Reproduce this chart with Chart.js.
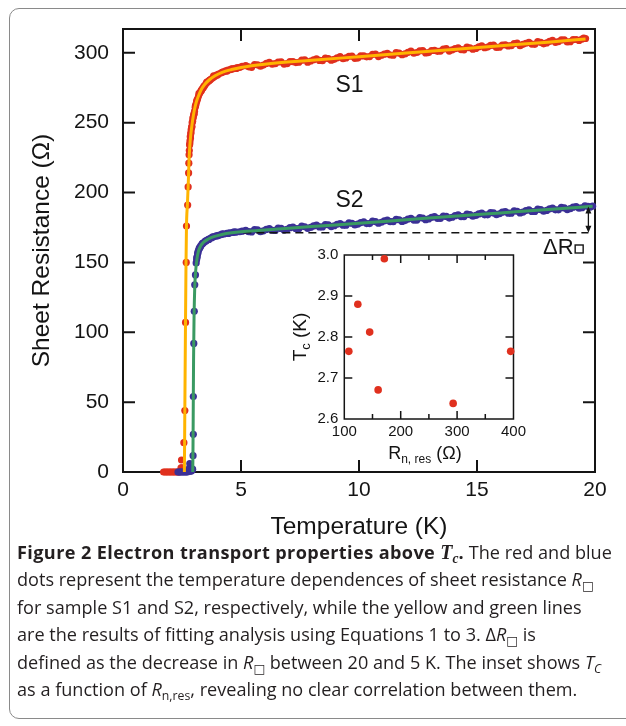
<!DOCTYPE html>
<html>
<head>
<meta charset="utf-8">
<script src="https://cdn.jsdelivr.net/npm/chart.js@4.4.1/dist/chart.umd.min.js"></script>
<style>
  html, body { margin:0; padding:0; background:#fff; }
  body { width:626px; height:726px; position:relative; overflow:hidden; }
  #frame { position:absolute; left:9px; top:8px; width:640px; height:711px; border:1.5px solid #8a8a8a; border-radius:10px; box-sizing:border-box; }
  #main { position:absolute; left:0; top:0; }
  #inset { position:absolute; left:280px; top:240px; }
  #cap { position:absolute; left:17px; top:539px; font-family:"Open Sans", sans-serif; font-size:18.1px; line-height:27.4px; color:#231f20; white-space:nowrap; }
  #cap b { font-weight:700; letter-spacing:0.4px; }
  #cap .tc { font-family:"Liberation Serif", serif; font-style:italic; font-weight:700; font-size:1.1em; letter-spacing:0; }
  #cap sub { font-size:0.68em; line-height:0; vertical-align:baseline; position:relative; top:0.32em; }
  #cap .sq { font-family:"DejaVu Sans", sans-serif; font-style:normal; }
</style>
</head>
<body>
<div id="frame"></div>
<canvas id="main" width="626" height="545"></canvas>
<canvas id="inset" width="250" height="230"></canvas>
<div id="cap"><b>Figure 2 Electron transport properties above <span class="tc">T<sub>c</sub></span>.</b> The red and blue<br>dots represent the temperature dependences of sheet resistance <i>R</i><sub class="sq">□</sub><br>for sample S1 and S2, respectively, while the yellow and green lines<br>are the results of fitting analysis using Equations 1 to 3. Δ<i>R</i><sub class="sq">□</sub> is<br>defined as the decrease in <i>R</i><sub class="sq">□</sub> between 20 and 5 K. The inset shows <i>T<sub>C</sub></i><br>as a function of <i>R</i><sub>n,res</sub>, revealing no clear correlation between them.</div>
<script>
// ---------------- data ----------------
// Sample S1: measured sheet resistance (red dots)
const S1_T = [1.72,1.78,1.84,1.90,1.96,2.02,2.08,2.14,2.20,2.26,2.32,2.38,2.42,2.46,2.48,2.50,2.54,2.57,
  2.58,2.62,2.65,2.68,2.69,2.74,2.76,2.78,2.79,2.80,
  2.81,2.82,2.84,2.85,2.87,2.89,2.91,2.93,2.95,2.98,3.00,3.03,3.06,3.09,3.12,3.16,3.20,3.25,3.30,3.35,3.40,3.46,3.52,3.58,3.65,3.72,3.80,3.88,3.96,4.05,4.15,4.25,4.35,4.45,4.55,4.65,4.75,4.85,4.95,
  5.20,5.45,5.70,5.95,6.20,6.45,6.70,6.95,7.20,7.45,7.70,7.95,8.20,8.45,8.70,8.95,9.20,9.45,9.70,9.95,
  10.20,10.45,10.70,10.95,11.20,11.45,11.70,11.95,12.20,12.45,12.70,12.95,13.20,13.45,13.70,13.95,
  14.20,14.45,14.70,14.95,15.20,15.45,15.70,15.95,16.20,16.45,16.70,16.95,17.20,17.45,17.70,17.95,
  18.20,18.45,18.70,18.95,19.20,19.45,19.60];
const S1_R = [0,0,0,0,0,0,0,0,0,0,0,0,0.5,3,8.6,3,0.5,1,
  21,44,107,150,176,191,204,214,221,227,
  230,234,237,240,242,245,247,250,251,254,256,258,261,263,265,267,269,271,272.5,274,275,276.5,278,279,280,281,282,283,284,284.8,285.5,286.3,287,287.6,288,288.5,288.8,289.3,289.6,
  290.8,289.6,291.4,291.2,293.1,292.2,293.5,292.2,293.7,293.2,295.0,294.1,295.7,294.3,295.8,295.3,297.2,296.3,297.6,296.2,
  297.8,297.3,299.1,298.2,299.6,298.2,299.7,299.2,301.1,300.2,301.5,300.1,301.7,301.2,303.0,302.1,
  303.5,302.1,303.6,303.1,305.0,304.1,305.4,304.0,305.6,305.1,306.9,306.0,307.4,306.0,307.5,307.0,
  308.9,308.0,309.3,307.9,309.5,309.8,310.2];
// S1 dots in between (the dense band above 5 K and in the knee)
const S1B_T = [2.83,2.86,2.88,2.92,2.96,3.01,3.07,3.13,3.22,3.32,3.43,3.55,3.68,3.84,4.00,4.20,4.40,4.60,4.80,5.05,
  5.325,5.575,5.825,6.075,6.325,6.575,6.825,7.075,7.325,7.575,7.825,8.075,8.325,8.575,8.825,9.075,9.325,9.575,9.825,
  10.075,10.325,10.575,10.825,11.075,11.325,11.575,11.825,12.075,12.325,12.575,12.825,13.075,13.325,13.575,13.825,
  14.075,14.325,14.575,14.825,15.075,15.325,15.575,15.825,16.075,16.325,16.575,16.825,17.075,17.325,17.575,17.825,
  18.075,18.325,18.575,18.825,19.075,19.325,19.525];
const S1B_R = [235,239,243,247,253,256,262,266,271,273,276,279,280.5,283.5,284,286,286.8,288.4,288.8,290.3,
  289.9,291.6,290.4,292.4,291.8,293.4,291.9,293.7,293.0,294.7,293.2,295.0,294.5,296.2,294.7,296.4,295.8,297.5,296.0,
  297.7,297.1,298.8,297.3,299.0,298.4,300.1,298.6,300.3,299.7,301.4,299.9,301.6,301.0,302.7,301.2,
  302.9,302.3,304.0,302.5,304.2,303.6,305.3,303.8,305.5,304.9,306.6,305.1,306.8,306.2,307.9,306.4,
  308.1,307.5,309.2,307.7,309.4,308.8,310.5];
// Sample S1: fit (yellow line)
const FIT1_T = [2.60,2.61,2.62,2.645,2.67,2.69,2.73,2.76,2.78,2.80,2.83,2.87,2.92,2.98,3.05,3.13,3.22,3.33,3.47,3.65,3.90,4.20,4.60,5.00,6.00,8.00,10.00,12.00,14.00,16.00,18.00,19.60];
const FIT1_R = [0,20,44,100,150,176,192,204,214,224,233,241,248,255,261,266,270,274,277.5,280.5,283.5,286,288,289.5,291.8,294.6,297.2,299.8,302.4,305.0,307.6,309.8];
// Sample S2: measured sheet resistance (blue dots)
const S2_T = [2.33,2.38,2.43,2.48,2.53,2.58,2.63,2.68,2.73,2.78,2.82,2.83,2.85,2.88,2.92,2.95,
  2.97,2.98,2.98,3.00,3.02,3.04,3.07,3.10,
  3.12,3.14,3.16,3.18,3.21,3.25,3.30,3.35,3.40,3.46,3.53,3.60,3.68,3.76,3.85,3.95,4.05,4.15,4.27,4.40,4.52,4.65,4.80,4.95,
  5.20,5.45,5.70,5.95,6.20,6.45,6.70,6.95,7.20,7.45,7.70,7.95,8.20,8.45,8.70,8.95,9.20,9.45,9.70,9.95,
  10.20,10.45,10.70,10.95,11.20,11.45,11.70,11.95,12.20,12.45,12.70,12.95,13.20,13.45,13.70,13.95,
  14.20,14.45,14.70,14.95,15.20,15.45,15.70,15.95,16.20,16.45,16.70,16.95,17.20,17.45,17.70,17.95,
  18.20,18.45,18.70,18.95,19.20,19.45,19.70,19.90];
const S2_R = [0,0,0,0,0,0,0,0,0,0.5,3,6,2,0.5,1,2,
  11.7,27,54,92,115,134,141,149.6,
  152,154,156,157.7,159,160.5,162,163,163.8,164.7,165.5,166.3,167,167.7,168.3,168.9,169.4,169.8,170.3,170.7,171.1,171.4,171.7,171.9,
  172.9,171.8,173.2,172.6,174.1,172.9,174.3,173.7,175.3,174.1,175.5,175.0,176.6,175.4,176.8,176.2,177.8,176.6,178.0,177.4,
  179.0,177.8,179.2,178.7,180.3,179.1,180.5,179.9,181.5,180.3,181.7,181.1,182.7,181.5,182.9,182.3,
  184.0,182.8,184.2,183.6,185.2,184.0,185.4,184.8,186.4,185.2,186.6,186.0,187.6,186.4,187.8,187.2,
  188.8,187.6,189.0,188.4,190.0,189.1,190.1,190.2];
// S2 dots in between
const S2B_T = [3.13,3.17,3.23,3.28,3.37,3.49,3.64,3.80,4.00,4.21,4.46,4.72,5.05,
  5.325,5.575,5.825,6.075,6.325,6.575,6.825,7.075,7.325,7.575,7.825,8.075,8.325,8.575,8.825,9.075,9.325,9.575,9.825,
  10.075,10.325,10.575,10.825,11.075,11.325,11.575,11.825,12.075,12.325,12.575,12.825,13.075,13.325,13.575,13.825,
  14.075,14.325,14.575,14.825,15.075,15.325,15.575,15.825,16.075,16.325,16.575,16.825,17.075,17.325,17.575,17.825,
  18.075,18.325,18.575,18.825,19.075,19.325,19.575,19.80];
const S2B_R = [153.5,156.5,160,161.2,163.6,165.3,166.4,168.3,168.9,170.4,170.7,171.8,172.3,
  172.0,173.5,172.0,173.6,173.0,174.6,173.1,174.8,174.1,175.9,174.4,176.1,175.4,177.1,175.6,177.3,176.6,178.3,176.8,
  178.5,177.8,179.5,178.0,179.8,179.1,180.8,179.3,181.0,180.3,182.0,180.5,182.2,181.5,183.2,181.7,
  183.4,182.8,184.5,183.0,184.7,184.0,185.7,184.2,185.9,185.2,186.9,185.4,187.1,186.4,188.1,186.6,
  188.3,187.6,189.3,187.8,189.5,188.8,190.5,189.6];
// Sample S2: fit (green line)
const FIT2_T = [2.955,2.965,2.975,2.99,3.01,3.04,3.08,3.13,3.19,3.28,3.40,3.60,3.85,4.20,4.60,5.00,6.00,8.00,10.00,12.00,14.00,16.00,18.00,19.90];
const FIT2_R = [0,15,40,80,110,132,144,152,157.5,161.5,164.2,166.6,168.4,170.0,171.2,172.0,173.1,175.6,178.0,180.5,183.0,185.4,187.8,190.1];
// Delta R reference (dashed level, R at 5 K) and the 20 K value
const DASH_T = [5.1, 19.72];
const DASH_R = [171.2, 171.2];
const ARROW_T = 19.72, ARROW_TOP = 190.0, ARROW_BOTTOM = 171.2;
// Axis ticks
const MAIN_X_TICKS = [0, 5, 10, 15, 20];
const MAIN_Y_TICKS = [0, 50, 100, 150, 200, 250, 300];
// Inset: Tc vs R_n,res
const INSET_R = [108, 124, 145, 160, 171, 293, 395];
const INSET_TC = [2.765, 2.880, 2.812, 2.671, 2.991, 2.638, 2.765];
const INSET_X_TICKS = [100, 200, 300, 400];
const INSET_Y_TICKS = [2.6, 2.7, 2.8, 2.9, 3.0];

const pts = (xs, ys) => xs.map((x, i) => ({x, y: ys[i]}));
const FONT = "'Liberation Sans', Arial, sans-serif";
const INK = '#141414';
const RED = '#e0301e', BLUE = '#3b3096', YELLOW = '#ffb400', GREEN = '#3a9a62';

// inward ticks on all four sides + frame
const frameTicks = {
  id: 'frameTicks',
  beforeDatasetsDraw(chart, args, o) {
    const {ctx, chartArea: a, scales: {x, y}} = chart;
    ctx.save();
    ctx.strokeStyle = INK;
    ctx.lineWidth = o.lw;
    ctx.beginPath();
    const xt = (v, L) => { const p = x.getPixelForValue(v); if (p < a.left + 1 || p > a.right - 1) return;
      ctx.moveTo(p, a.bottom); ctx.lineTo(p, a.bottom - L); ctx.moveTo(p, a.top); ctx.lineTo(p, a.top + L); };
    const yt = (v, L) => { const p = y.getPixelForValue(v); if (p < a.top + 1 || p > a.bottom - 1) return;
      ctx.moveTo(a.left, p); ctx.lineTo(a.left + L, p); ctx.moveTo(a.right, p); ctx.lineTo(a.right - L, p); };
    o.xTicks.forEach(v => xt(v, o.len));
    o.yTicks.forEach(v => yt(v, o.len));
    if (o.xMinor) for (let i = 0; i < o.xTicks.length - 1; i++) xt((o.xTicks[i] + o.xTicks[i+1]) / 2, o.minorLen);
    ctx.stroke();
    ctx.lineWidth = o.frameLw;
    ctx.strokeRect(a.left, a.top, a.right - a.left, a.bottom - a.top);
    ctx.restore();
  }
};

// text/arrow annotations of the main plot
const mainNotes = {
  id: 'mainNotes',
  afterDatasetsDraw(chart) {
    const {ctx, scales: {x, y}} = chart;
    ctx.save();
    ctx.fillStyle = INK;
    ctx.textBaseline = 'alphabetic';
    ctx.textAlign = 'left';
    ctx.font = `23px ${FONT}`;
    ctx.fillText('S1', x.getPixelForValue(9.0), y.getPixelForValue(271.9));
    ctx.fillText('S2', x.getPixelForValue(9.0), y.getPixelForValue(189.6));
    // arrow
    const ax = x.getPixelForValue(ARROW_T), y1 = y.getPixelForValue(ARROW_TOP), y2 = y.getPixelForValue(ARROW_BOTTOM);
    ctx.strokeStyle = INK; ctx.lineWidth = 1.3;
    ctx.beginPath(); ctx.moveTo(ax, y1 + 3); ctx.lineTo(ax, y2 - 3); ctx.stroke();
    ctx.beginPath();
    ctx.moveTo(ax, y1); ctx.lineTo(ax - 3, y1 + 7); ctx.lineTo(ax + 3, y1 + 7); ctx.closePath();
    ctx.moveTo(ax, y2); ctx.lineTo(ax - 3, y2 - 7); ctx.lineTo(ax + 3, y2 - 7); ctx.closePath();
    ctx.fill();
    // Delta R label
    ctx.font = `22px ${FONT}`;
    const lx = x.getPixelForValue(17.8), ly = y.getPixelForValue(156.0);
    ctx.fillText('ΔR', lx, ly);
    const w = ctx.measureText('ΔR').width;
    ctx.lineWidth = 1.4;
    ctx.strokeRect(lx + w + 1.5, ly - 9, 8, 8);
    ctx.restore();
  }
};

const dots = (xs, ys, c) => ({ data: pts(xs, ys), pointRadius: 3.6, pointBackgroundColor: c, pointBorderWidth: 0, clip: false });

new Chart(document.getElementById('main'), {
  type: 'scatter',
  data: {
    datasets: [
      { data: pts(FIT1_T, FIT1_R), showLine: true, borderColor: YELLOW, borderWidth: 3, pointRadius: 0, cubicInterpolationMode: 'monotone', clip: false },
      { data: pts(FIT2_T, FIT2_R), showLine: true, borderColor: GREEN, borderWidth: 3, pointRadius: 0, cubicInterpolationMode: 'monotone', clip: false },
      { data: pts(DASH_T, DASH_R), showLine: true, borderColor: INK, borderWidth: 1.5, borderDash: [8, 5], pointRadius: 0 },
      dots(S2_T, S2_R, BLUE),
      dots(S2B_T, S2B_R, BLUE),
      dots(S1_T, S1_R, RED),
      dots(S1B_T, S1B_R, RED)
    ]
  },
  options: {
    responsive: false, animation: false, events: [],
    layout: { padding: { left: 0, top: 29, right: 31, bottom: 0 } },
    plugins: { legend: { display: false }, tooltip: { enabled: false },
      frameTicks: { lw: 2, frameLw: 2, len: 12, xTicks: MAIN_X_TICKS, yTicks: MAIN_Y_TICKS } },
    scales: {
      x: { type: 'linear', min: 0, max: 20,
        afterBuildTicks: s => { s.ticks = MAIN_X_TICKS.map(v => ({value: v})); },
        afterFit: s => { s.height = 73; },
        grid: { display: false, drawTicks: false }, border: { display: false },
        ticks: { font: { family: FONT, size: 21 }, color: INK, padding: 6 },
        title: { display: true, text: 'Temperature (K)', font: { family: FONT, size: 24.5 }, color: INK, padding: { top: 0, bottom: 3 } } },
      y: { type: 'linear', min: 0, max: 317,
        afterBuildTicks: s => { s.ticks = MAIN_Y_TICKS.map(v => ({value: v})); },
        afterFit: s => { s.width = 123; },
        grid: { display: false, drawTicks: false }, border: { display: false },
        ticks: { font: { family: FONT, size: 21 }, color: INK, padding: 14 },
        title: { display: true, text: 'Sheet Resistance (Ω)', font: { family: FONT, size: 24.5 }, color: INK, padding: { top: 28, bottom: 0 } } }
    }
  },
  plugins: [frameTicks, mainNotes]
});

// inset titles with subscripts
const insetTitles = {
  id: 'insetTitles',
  afterDraw(chart) {
    const {ctx, chartArea: a} = chart;
    const parts = (list) => { let w = 0; list.forEach(p => { ctx.font = p[1]; w += ctx.measureText(p[0]).width; }); return w; };
    const drawParts = (list, x0, y0) => { let xx = x0; list.forEach(p => { ctx.font = p[1]; ctx.fillText(p[0], xx, y0 + p[2]); xx += ctx.measureText(p[0]).width; }); };
    ctx.save();
    ctx.fillStyle = INK; ctx.textBaseline = 'alphabetic'; ctx.textAlign = 'left';
    const xl = [['R', `18px ${FONT}`, 0], ['n, res', `12px ${FONT}`, 4], [' (Ω)', `18px ${FONT}`, 0]];
    const wx = parts(xl);
    drawParts(xl, (a.left + a.right) / 2 - wx / 2 - 4, 219);
    const yl = [['T', `19px ${FONT}`, 0], ['c', `13px ${FONT}`, 4], [' (K)', `19px ${FONT}`, 0]];
    const wy = parts(yl);
    ctx.translate(26, (a.top + a.bottom) / 2);
    ctx.rotate(-Math.PI / 2);
    drawParts(yl, -wy / 2, 0);
    ctx.restore();
  }
};

new Chart(document.getElementById('inset'), {
  type: 'scatter',
  data: { datasets: [ { data: pts(INSET_R, INSET_TC), pointRadius: 3.8, pointBackgroundColor: RED, pointBorderWidth: 0, clip: false } ] },
  options: {
    responsive: false, animation: false, events: [],
    layout: { padding: { left: 0, top: 13.3, right: 14.7, bottom: 0 } },
    plugins: { legend: { display: false }, tooltip: { enabled: false },
      frameTicks: { lw: 1.5, frameLw: 1.5, len: 8, minorLen: 5, xMinor: true, xTicks: INSET_X_TICKS, yTicks: INSET_Y_TICKS } },
    scales: {
      x: { type: 'linear', min: 100, max: 400,
        afterBuildTicks: s => { s.ticks = INSET_X_TICKS.map(v => ({value: v})); },
        afterFit: s => { s.height = 51; },
        grid: { display: false, drawTicks: false }, border: { display: false },
        ticks: { font: { family: FONT, size: 15 }, color: INK, padding: 4 } },
      y: { type: 'linear', min: 2.6, max: 3.0,
        afterBuildTicks: s => { s.ticks = INSET_Y_TICKS.map(v => ({value: v})); },
        afterFit: s => { s.width = 64.3; },
        grid: { display: false, drawTicks: false }, border: { display: false },
        ticks: { font: { family: FONT, size: 15 }, color: INK, padding: 6, callback: v => v.toFixed(1) } }
    }
  },
  plugins: [frameTicks, insetTitles]
});
</script>
</body>
</html>
